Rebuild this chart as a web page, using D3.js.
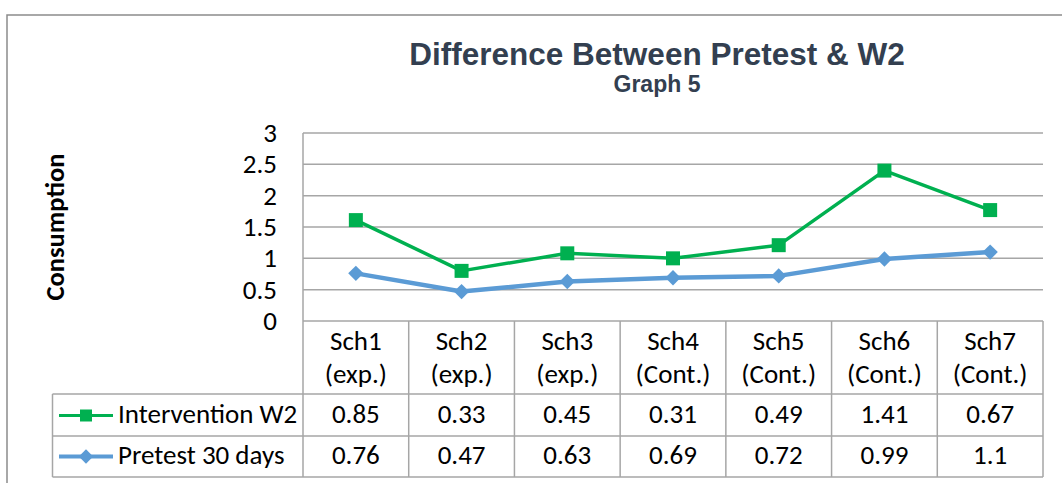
<!DOCTYPE html>
<html>
<head>
<meta charset="utf-8">
<script src="https://cdn.jsdelivr.net/npm/d3@7"></script>
<style>
  body { margin: 0; background: #fff; }
  svg { display: block; }
  .cal { font-family: Calibri, Carlito, "Open Sans", sans-serif; }
</style>
</head>
<body>
<svg id="chart" width="1062" height="483"></svg>
<script>
// chart values
let schools   = ["Sch1", "Sch2", "Sch3", "Sch4", "Sch5", "Sch6", "Sch7"];
let groups    = ["(exp.)", "(exp.)", "(exp.)", "(Cont.)", "(Cont.)", "(Cont.)", "(Cont.)"];
let pretest   = [0.76, 0.47, 0.63, 0.69, 0.72, 0.99, 1.1];
let interv    = [0.85, 0.33, 0.45, 0.31, 0.49, 1.41, 0.67];
let yTicks    = [0, 0.5, 1, 1.5, 2, 2.5, 3];
let seriesNames = { interv: "Intervention W2", pretest: "Pretest 30 days" };

let svg = d3.select("#chart");
let grid_col = "#a6a6a6";

// outer frame
svg.append("path")
    .attr("d", "M7,483 V15 H1062")
    .attr("fill", "none").attr("stroke", "#8c8c8c").attr("stroke-width", 1.5);

let rows = schools.map(function(s, i){ return { cat: s, pretest: pretest[i], interv: interv[i] }; });
// excel stacked line: intervention sits on top of pretest
let stacked = d3.stack().keys(["pretest", "interv"])(rows);

let x = d3.scaleBand().domain(schools).range([303, 1043]).paddingInner(0).paddingOuter(0);
let y = d3.scaleLinear().domain([0, 3]).range([321, 133]);
let cx = function(d){ return x(d.data.cat) + x.bandwidth() / 2; };

// title
svg.append("text").attr("x", 657).attr("y", 65).attr("text-anchor", "middle")
    .attr("font-family", "'Liberation Sans', Arial, sans-serif").attr("font-weight", "bold")
    .attr("font-size", 31.5).attr("fill", "#333f50").text("Difference Between Pretest & W2");
svg.append("text").attr("x", 657).attr("y", 92).attr("text-anchor", "middle")
    .attr("font-family", "'Liberation Sans', Arial, sans-serif").attr("font-weight", "bold")
    .attr("font-size", 23).attr("fill", "#333f50").text("Graph 5");

// gridlines
svg.append("g").selectAll("line").data(yTicks).enter().append("line")
    .attr("x1", 303).attr("x2", 1043)
    .attr("y1", function(d){ return y(d); }).attr("y2", function(d){ return y(d); })
    .attr("stroke", grid_col).attr("stroke-width", 1.5);

// y axis labels
let yAxis = svg.append("g").attr("class", "cal").attr("transform", "translate(277,0)")
    .call(d3.axisLeft(y).tickValues(yTicks).tickSize(0).tickPadding(0).tickFormat(d3.format("")));
yAxis.select(".domain").remove();
yAxis.selectAll("text").attr("font-size", 27).attr("fill", "#000").attr("font-family", null);

svg.append("text").attr("class", "cal")
    .attr("transform", "translate(64,227) rotate(-90)")
    .attr("text-anchor", "middle").attr("font-weight", "bold").attr("font-size", 26.5)
    .attr("fill", "#000").text("Consumption");

// data table
let tbl = svg.append("g").attr("stroke", grid_col).attr("stroke-width", 1.5);
let colEdges = schools.map(function(s){ return x(s); }).concat([x.range()[1]]);
tbl.selectAll("line.v").data(colEdges).enter().append("line")
    .attr("x1", function(d){ return d; }).attr("x2", function(d){ return d; })
    .attr("y1", function(d, i){ return i == 0 ? 133 : 321; }).attr("y2", 477);
tbl.append("line").attr("x1", 52.5).attr("x2", 52.5).attr("y1", 394).attr("y2", 477);
[394, 436, 477].forEach(function(yy){
    tbl.append("line").attr("x1", 52.5).attr("x2", 1043).attr("y1", yy).attr("y2", yy);
});

let hdr = svg.append("g").attr("class", "cal").attr("font-size", 27).attr("text-anchor", "middle");
hdr.selectAll("text.s").data(schools).enter().append("text")
    .attr("x", function(d){ return x(d) + x.bandwidth() / 2; }).attr("y", 350).text(function(d){ return d; });
hdr.selectAll("text.g").data(groups).enter().append("text")
    .attr("x", function(d, i){ return x(schools[i]) + x.bandwidth() / 2; }).attr("y", 383).text(function(d){ return d; });

let valRows = [ { key: "interv", vals: interv, y: 423 }, { key: "pretest", vals: pretest, y: 464 } ];
valRows.forEach(function(r){
    hdr.selectAll("text.v" + r.key).data(r.vals).enter().append("text")
        .attr("x", function(d, i){ return x(schools[i]) + x.bandwidth() / 2; }).attr("y", r.y)
        .text(function(d){ return d; });
});

// series styling
let style = {
    pretest: { color: "#5b9bd5", width: 4.5, marker: d3.symbolDiamond2, size: 150 },
    interv:  { color: "#00b050", width: 3.5, marker: d3.symbolSquare, size: 196 }
};

// lines
let line = d3.line().x(cx).y(function(d){ return y(d[1]); });
stacked.forEach(function(s){
    let st = style[s.key];
    svg.append("path").datum(s).attr("d", line)
        .attr("fill", "none").attr("stroke", st.color).attr("stroke-width", st.width)
        .attr("stroke-linejoin", "round");
    svg.append("g").selectAll("path").data(s).enter().append("path")
        .attr("d", d3.symbol().type(st.marker).size(st.size))
        .attr("transform", function(d){ return "translate(" + cx(d) + "," + y(d[1]) + ")"; })
        .attr("fill", st.color);
});

// legend keys inside the table
valRows.forEach(function(r){
    let st = style[r.key];
    let ly = r.y - 7.5;
    svg.append("line").attr("x1", 59).attr("x2", 113).attr("y1", ly).attr("y2", ly)
        .attr("stroke", st.color).attr("stroke-width", st.width - 0.5);
    svg.append("path").attr("d", d3.symbol().type(st.marker).size(r.key == "interv" ? 144 : 130))
        .attr("transform", "translate(86," + ly + ")").attr("fill", st.color);
    svg.append("text").attr("class", "cal").attr("x", 118).attr("y", r.y)
        .attr("font-size", 27).text(seriesNames[r.key]);
});
</script>
</body>
</html>
